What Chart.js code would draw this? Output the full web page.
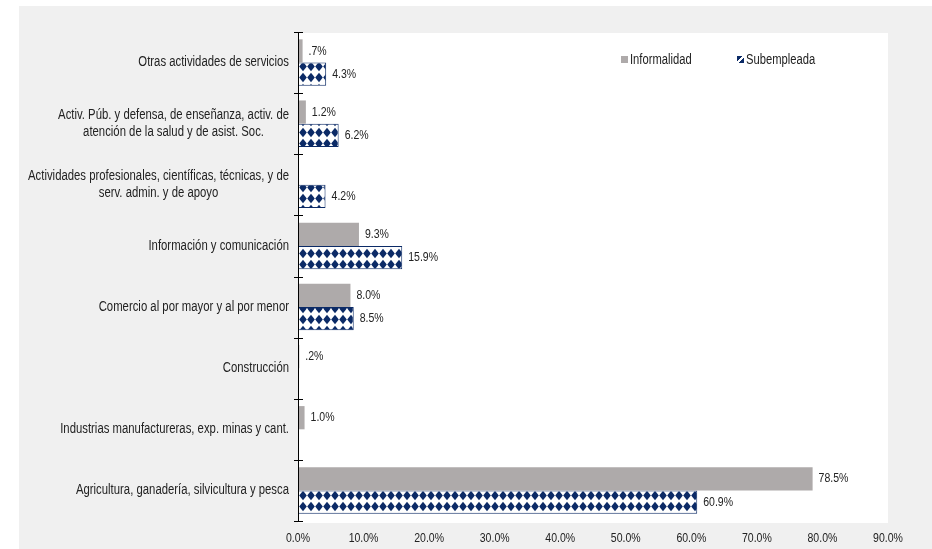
<!DOCTYPE html>
<html>
<head>
<meta charset="utf-8">
<script src="https://cdn.jsdelivr.net/npm/chart.js@4.4.1/dist/chart.umd.min.js"></script>
<style>
  html, body { margin: 0; padding: 0; background: #fff; }
  #wrap { position: absolute; left: 19px; top: 6px; width: 913px; height: 543px; }
  #legend { position: absolute; left: 621px; top: 51px; font: 14px "Liberation Sans", Arial, sans-serif; color: #222; white-space: nowrap; }
  #legend span.item { display: inline-block; width: 116px; }
  #legend i { display: inline-block; width: 7px; height: 7px; margin-right: 2px; vertical-align: 1px; }
  #legend b { display: inline-block; font-weight: normal; transform: scaleX(0.8); transform-origin: left center; }
</style>
</head>
<body>
<div id="wrap"><canvas id="chart" width="913" height="543"></canvas></div>
<div id="legend"></div>
<script>
var sectores = [
  ['Otras actividades de servicios'],
  ['Activ. Púb. y defensa, de enseñanza, activ. de', 'atención de la salud y de asist. Soc.'],
  ['Actividades profesionales, científicas, técnicas, y de', 'serv. admin. y de apoyo'],
  ['Información y comunicación'],
  ['Comercio al por mayor y al por menor'],
  ['Construcción'],
  ['Industrias manufactureras, exp. minas y cant.'],
  ['Agricultura, ganadería, silvicultura y pesca']
];
var informalidad = [0.7, 1.2, null, 9.3, 8.0, 0.2, 1.0, 78.5];
var subempleada = [4.3, 6.2, 4.2, 15.9, 8.5, null, null, 60.9];
var xTicks = [0, 10, 20, 30, 40, 50, 60, 70, 80, 90];

var GRIS = '#aeaaaa';
var AZUL = '#0b2a66';
var FUENTE = '"Liberation Sans", Arial, sans-serif';
var ANGOSTO = 0.81; // horizontal squeeze so the text reads like a narrow face

// diamond fill for the navy series
function diamantes() {
  var c = document.createElement('canvas');
  c.width = 8; c.height = 11;
  var g = c.getContext('2d');
  g.fillStyle = '#fff';
  g.fillRect(0, 0, 8, 11);
  g.fillStyle = AZUL;
  g.beginPath();
  g.moveTo(4, 0.8); g.lineTo(7.8, 5.5); g.lineTo(4, 10.2); g.lineTo(0.2, 5.5);
  g.closePath();
  g.fill();
  return g.createPattern(c, 'repeat');
}

function pct(v) {
  var s = v.toFixed(1);
  if (s.charAt(0) === '0') s = s.slice(1);
  return s + '%';
}

function texto(ctx, s, x, y, align) {
  ctx.save();
  ctx.translate(x, y);
  ctx.scale(ANGOSTO, 1);
  ctx.textAlign = align;
  ctx.fillText(s, 0, 0);
  ctx.restore();
}

var fondo = {
  id: 'fondo',
  beforeDraw: function (chart) {
    var ctx = chart.ctx, a = chart.chartArea;
    ctx.save();
    ctx.fillStyle = '#f0f0f0';
    ctx.fillRect(0, 0, chart.width, chart.height);
    ctx.fillStyle = '#fff';
    ctx.fillRect(a.left, a.top + 1, a.right - a.left, a.bottom - a.top + 1);
    ctx.restore();
  }
};

// axis line with ticks, category labels (multi-line blocks centred) and x tick labels
var ejes = {
  id: 'ejes',
  afterDraw: function (chart) {
    var ctx = chart.ctx, x = chart.scales.x, y = chart.scales.y, a = chart.chartArea;
    var paso = y.getPixelForValue(1) - y.getPixelForValue(0);
    ctx.save();
    ctx.strokeStyle = '#000';
    ctx.lineWidth = 1;
    ctx.beginPath();
    ctx.moveTo(a.left + 0.5, a.top);
    ctx.lineTo(a.left + 0.5, a.bottom);
    for (var i = 0; i <= sectores.length; i++) {
      var py = Math.round(y.getPixelForValue(0) + (i - 0.5) * paso) + 0.5;
      ctx.moveTo(a.left - 4, py);
      ctx.lineTo(a.left + 5, py);
    }
    ctx.stroke();
    ctx.fillStyle = '#222';
    ctx.textBaseline = 'middle';
    ctx.font = '14px ' + FUENTE;
    sectores.forEach(function (lines, i) {
      var w = 0;
      lines.forEach(function (l) { w = Math.max(w, ctx.measureText(l).width * ANGOSTO); });
      var cx = a.left - 9 - w / 2;
      var cy = y.getPixelForValue(i);
      lines.forEach(function (l, k) {
        texto(ctx, l, cx, cy + (k - (lines.length - 1) / 2) * 17, 'center');
      });
    });
    ctx.font = '13px ' + FUENTE;
    xTicks.forEach(function (v) {
      texto(ctx, v.toFixed(1) + '%', x.getPixelForValue(v), a.bottom + 17, 'center');
    });
    ctx.restore();
  }
};

var etiquetas = {
  id: 'etiquetas',
  afterDatasetsDraw: function (chart) {
    var ctx = chart.ctx;
    ctx.save();
    ctx.font = '13px ' + FUENTE;
    ctx.fillStyle = '#222';
    ctx.textBaseline = 'middle';
    chart.data.datasets.forEach(function (ds, d) {
      chart.getDatasetMeta(d).data.forEach(function (el, i) {
        var v = ds.data[i];
        if (v === null) return;
        texto(ctx, pct(v), el.x + 6, el.y, 'left');
      });
    });
    ctx.restore();
  }
};

var chart = new Chart(document.getElementById('chart'), {
  type: 'bar',
  data: {
    labels: sectores.map(function (s) { return s.join(' '); }),
    datasets: [{
      label: 'Informalidad',
      data: informalidad,
      backgroundColor: GRIS,
      borderWidth: 0,
      categoryPercentage: 0.76,
      barPercentage: 1
    }, {
      label: 'Subempleada',
      data: subempleada,
      backgroundColor: diamantes(),
      borderColor: AZUL,
      borderWidth: 1,
      categoryPercentage: 0.76,
      barPercentage: 1
    }]
  },
  options: {
    indexAxis: 'y',
    responsive: false,
    animation: false,
    layout: { padding: { left: 279, right: 44, top: 26, bottom: 28 } },
    plugins: { legend: { display: false }, tooltip: { enabled: false } },
    scales: {
      x: { display: false, min: 0, max: 90 },
      y: { display: false }
    }
  },
  plugins: [fondo, ejes, etiquetas]
});

// legend
var leg = document.getElementById('legend');
chart.data.datasets.forEach(function (ds, d) {
  var item = document.createElement('span');
  item.className = 'item';
  var sw = document.createElement('i');
  if (d === 0) {
    sw.style.background = GRIS;
  } else {
    sw.style.background = 'linear-gradient(135deg, ' + AZUL + ' 40%, #fff 40%, #fff 60%, ' + AZUL + ' 60%)';
  }
  var t = document.createElement('b');
  t.textContent = ds.label;
  item.appendChild(sw);
  item.appendChild(t);
  leg.appendChild(item);
});
</script>
</body>
</html>
